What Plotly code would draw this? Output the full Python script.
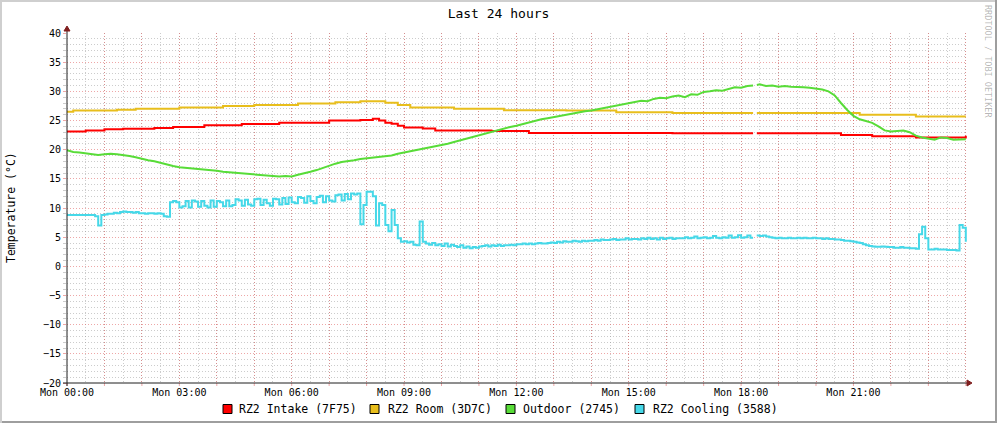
import plotly.graph_objects as go

# ---------------- data ----------------
series_names = ["RZ2 Intake (7F75)", "RZ2 Room (3D7C)", "Outdoor (2745)", "RZ2 Cooling (3588)"]
series_colors = ["#FF0000", "#E8BE1C", "#58DC38", "#46D8E8"]

tick_hours = [0, 3, 6, 9, 12, 15, 18, 21]
tick_labels = ["Mon 00:00", "Mon 03:00", "Mon 06:00", "Mon 09:00",
               "Mon 12:00", "Mon 15:00", "Mon 18:00", "Mon 21:00"]

# sample times in hours; one sample is missing around 18:20
time_10min = [i / 6 for i in range(110)] + [18.32, 18.37, 18.42] + [i / 6 for i in range(111, 145)]
time_5min = [j / 12 for j in range(220)] + [18.32, 18.37] + [j / 12 for j in range(221, 289)]

intake = [
    23.1, 23.1, 23.1, 23.3, 23.3, 23.3, 23.5, 23.5, 23.5, 23.6,
    23.6, 23.6, 23.6, 23.6, 23.7, 23.7, 23.7, 23.9, 23.9, 23.9,
    23.9, 23.9, 24.2, 24.2, 24.2, 24.2, 24.2, 24.2, 24.4, 24.4,
    24.4, 24.4, 24.4, 24.4, 24.6, 24.6, 24.6, 24.6, 24.6, 24.6,
    24.6, 24.6, 25.0, 25.0, 25.0, 25.0, 25.0, 25.1, 25.1, 25.3,
    25.0, 24.6, 24.45, 24.1, 23.8, 23.8, 23.8, 23.65, 23.65, 23.3,
    23.3, 23.3, 23.3, 23.3, 23.3, 23.3, 23.3, 23.3, 23.2, 23.2,
    23.2, 23.2, 23.2, 23.2, 22.85, 22.85, 22.85, 22.85, 22.85, 22.85,
    22.85, 22.85, 22.85, 22.85, 22.85, 22.85, 22.85, 22.85, 22.85, 22.85,
    22.85, 22.85, 22.85, 22.85, 22.85, 22.85, 22.85, 22.8, 22.8, 22.8,
    22.8, 22.8, 22.8, 22.8, 22.8, 22.8, 22.8, 22.8, 22.8, 22.8,
    22.8, None, 22.8,
    22.8, 22.8, 22.8, 22.8, 22.8, 22.8, 22.8, 22.8, 22.8,
    22.8, 22.8, 22.8, 22.8, 22.5, 22.5, 22.5, 22.5, 22.5, 22.3,
    22.3, 22.3, 22.3, 22.3, 22.3, 22.3, 22.1, 22.1, 22.1, 22.1,
    22.1, 22.1, 22.1, 22.1, 22.4,
]

room = [
    26.5, 26.7, 26.7, 26.7, 26.7, 26.7, 26.7, 26.7, 26.85, 26.85,
    26.85, 27.0, 27.0, 27.0, 27.0, 27.0, 27.0, 27.0, 27.25, 27.25,
    27.25, 27.25, 27.25, 27.25, 27.25, 27.5, 27.5, 27.5, 27.5, 27.5,
    27.65, 27.65, 27.65, 27.65, 27.65, 27.65, 27.65, 27.9, 27.9, 27.9,
    27.9, 27.9, 27.9, 28.15, 28.15, 28.15, 28.15, 28.3, 28.3, 28.3,
    28.3, 28.05, 28.05, 27.65, 27.65, 27.25, 27.25, 27.25, 27.25, 27.25,
    27.25, 27.25, 27.0, 27.0, 27.0, 27.0, 27.0, 27.0, 27.0, 27.0,
    26.75, 26.75, 26.75, 26.75, 26.75, 26.75, 26.75, 26.75, 26.75, 26.75,
    26.7, 26.7, 26.7, 26.7, 26.7, 26.7, 26.7, 26.7, 26.4, 26.4,
    26.4, 26.4, 26.4, 26.4, 26.4, 26.4, 26.4, 26.3, 26.3, 26.3,
    26.3, 26.3, 26.3, 26.3, 26.3, 26.3, 26.3, 26.3, 26.3, 26.3,
    26.3, None, 26.3,
    26.3, 26.3, 26.3, 26.3, 26.3, 26.3, 26.3, 26.3, 26.3,
    26.3, 26.3, 26.3, 26.3, 26.3, 26.3, 26.3, 26.0, 26.0, 26.0,
    26.0, 26.0, 26.0, 26.0, 26.0, 26.0, 25.7, 25.7, 25.7, 25.7,
    25.7, 25.7, 25.7, 25.7, 25.7,
]

outdoor = [
    19.9, 19.6, 19.5, 19.4, 19.3, 19.1, 19.2, 19.3, 19.2, 19.1,
    18.9, 18.7, 18.4, 18.2, 18.0, 17.7, 17.4, 17.2, 17.0, 16.9,
    16.8, 16.7, 16.6, 16.6, 16.4, 16.2, 16.1, 16.0, 16.0, 15.8,
    15.7, 15.6, 15.5, 15.4, 15.4, 15.5, 15.4, 15.7, 15.9, 16.2,
    16.5, 16.9, 17.3, 17.6, 17.9, 18.0, 18.2, 18.4, 18.5, 18.6,
    18.7, 18.8, 19.0, 19.3, 19.5, 19.7, 19.9, 20.2, 20.4, 20.6,
    20.8, 21.0, 21.3, 21.6, 21.9, 22.2, 22.5, 22.8, 23.1, 23.4,
    23.7, 23.9, 24.1, 24.4, 24.6, 24.9, 25.2, 25.4, 25.6, 25.9,
    26.1, 26.3, 26.5, 26.6, 26.7, 26.9, 27.1, 27.3, 27.6, 27.8,
    28.0, 28.2, 28.4, 28.3, 28.7, 28.9, 28.8, 29.1, 29.3, 29.0,
    29.5, 29.4, 29.9, 30.0, 30.2, 30.1, 30.4, 30.7, 30.6, 30.9,
    31.0, None, 31.1,
    31.2, 30.9, 31.0, 30.8, 30.9, 30.8, 30.8, 30.7, 30.6,
    30.5, 30.3, 30.0, 29.3, 28.0, 26.8, 25.8, 25.2, 24.9, 24.6,
    24.0, 23.3, 23.1, 23.2, 23.3, 23.0, 22.4, 22.1, 21.9, 21.7,
    22.1, 22.0, 21.7, 21.8, 21.8,
]

cooling = [
    8.8, 8.8, 8.8, 8.8, 8.8, 8.8, 8.8, 8.8, 8.8, 8.6,
    7.0,
    8.8, 8.9, 9.0, 9.0,
    9.2, 9.1, 9.3, 9.4, 9.3, 9.3, 9.2, 9.3,
    9.1, 9.1, 9.0, 9.1, 9.1, 9.0, 9.1, 9.0,
    8.6, 8.5,
    11.0,
    11.2, 11.0, 10.1, 10.3, 11.2, 10.1, 11.3, 11.1, 10.2, 11.2, 10.4, 10.1, 11.3, 10.2, 11.2, 11.0, 10.3,
    11.3, 10.3, 10.5, 11.5, 11.3, 10.4, 11.4, 10.6, 10.4, 11.5, 11.6, 10.5, 11.4, 10.8, 10.4, 11.6, 11.5, 10.6, 11.7, 10.7,
    11.8, 11.0, 10.8, 11.9, 11.7, 10.9, 12.0, 11.2, 10.8, 11.9, 12.1, 11.0, 12.0, 11.3, 11.1,
    12.2, 12.3, 11.3, 12.4, 11.5, 12.5, 12.3,
    12.5, 7.2, 10.5, 12.8, 12.8, 12.0, 7.0, 10.8, 10.5, 7.1, 6.0, 9.65, 7.1,
    4.8, 4.2, 4.3, 4.1, 4.2, 3.7, 3.6, 7.7, 4.2,
    3.9, 3.7, 4.0, 3.6, 3.8, 3.5, 3.9, 3.4, 3.7, 3.5, 3.3, 3.6,
    3.2, 3.4, 3.1, 3.3, 3.2, 3.4,
    3.5, 3.6, 3.4, 3.6, 3.5, 3.7, 3.5, 3.6, 3.6, 3.7, 3.6,
    3.8, 3.8, 3.9, 3.8, 3.9, 3.8, 3.9, 4.0, 3.9, 3.9, 4.0, 4.1, 4.0,
    4.2, 4.1, 4.3, 4.2, 4.2, 4.4, 4.3, 4.2, 4.4, 4.3, 4.4, 4.4,
    4.5, 4.4, 4.6, 4.5, 4.5, 4.6, 4.7, 4.5, 4.6, 4.6, 4.8, 4.6, 4.7,
    4.7, 4.6, 4.8, 4.7, 4.9, 4.7, 4.8, 4.6, 4.9, 4.7, 4.8, 4.9, 4.7, 4.8, 4.8,
    4.8, 5.0, 4.8, 4.9, 5.1, 4.8, 4.9, 5.0, 4.8, 4.9, 5.2, 4.9, 4.8, 5.0,
    4.9, 5.3, 4.9, 5.0, 5.35, 4.9, 5.0, 5.3, 4.9,
    4.9, None,
    5.3, 5.2, 5.3, 5.1, 5.0,
    4.9, 4.8, 4.9, 4.8, 4.8, 4.9, 4.8, 4.8, 4.9, 4.8, 4.9, 4.8, 4.8, 4.9, 4.8, 4.8, 4.7, 4.8, 4.7, 4.7, 4.6, 4.6,
    4.5, 4.4, 4.4, 4.3, 4.2, 4.1, 4.0, 3.8, 3.6, 3.5,
    3.4, 3.35, 3.35, 3.4, 3.35, 3.3,
    3.3, 3.2, 3.2, 3.3, 3.2, 3.2, 3.1, 3.1, 3.0,
    5.5, 6.8, 4.8,
    2.9, 2.9, 3.0, 2.9, 2.9, 2.9, 2.8, 2.8, 2.8, 2.7,
    7.1, 6.6, 4.2,
]

# ---------------- layout geometry (pixels) ----------------
IMG_W, IMG_H = 997, 423
L, T, W, H = 67, 33, 900, 350
R, B = IMG_W - L - W, IMG_H - T - H

def px(x):
    return (x - L) / W

def py(y):
    return (T + H - y) / H

MONO = "DejaVu Sans Mono"
GRID = "rgba(143,143,143,0.45)"
MGRID = "rgba(222,79,79,0.5)"
AXIS = "#1F1F1F"
ARROW = "#801F1F"

fig = go.Figure()
xs = [time_10min, time_10min, time_10min, time_5min]
ys = [intake, room, outdoor, cooling]
shapes_line = ["hv", "hv", "linear", "hv"]
for name, color, x, y, shp in zip(series_names, series_colors, xs, ys, shapes_line):
    fig.add_trace(go.Scatter(x=x, y=y, name=name, mode="lines",
                             line=dict(color=color, width=2, shape=shp),
                             connectgaps=False, showlegend=False,
                             hoverinfo="x+y+name"))

hour_ticks = list(range(25))
hour_text = [tick_labels[tick_hours.index(h)] if h in tick_hours else "" for h in hour_ticks]

fig.update_xaxes(range=[0, W / 37.45], tickmode="array", tickvals=hour_ticks, ticktext=hour_text,
                 showgrid=True, gridcolor=MGRID, griddash="1px,2px", gridwidth=1,
                 ticks="", ticklabelstandoff=2,
                 tickfont=dict(family=MONO, size=10, color="#000"),
                 showline=False, zeroline=False, fixedrange=True,
                 minor=dict(tick0=0, dtick=0.5, showgrid=True, gridcolor=GRID,
                            griddash="1px,2px", gridwidth=1, ticks=""))
fig.update_yaxes(range=[-20, 40], tickmode="linear", tick0=-20, dtick=5,
                 showgrid=True, gridcolor=MGRID, griddash="1px,2px", gridwidth=1,
                 ticks="outside", ticklen=3, tickcolor=MGRID, tickwidth=1,
                 tickfont=dict(family=MONO, size=10, color="#000"),
                 showline=False, zeroline=False, fixedrange=True,
                 minor=dict(tick0=0, dtick=1, showgrid=True, gridcolor=GRID,
                            griddash="1px,2px", gridwidth=1, ticks="outside",
                            ticklen=3, tickcolor=GRID))

shapes = []
# frame (3D shade)
shapes.append(dict(type="rect", xref="paper", yref="paper", x0=px(0), x1=px(IMG_W), y0=py(2), y1=py(0),
                   fillcolor="#CFCFCF", line=dict(width=0), layer="above"))
shapes.append(dict(type="rect", xref="paper", yref="paper", x0=px(0), x1=px(2), y0=py(IMG_H), y1=py(0),
                   fillcolor="#CFCFCF", line=dict(width=0), layer="above"))
shapes.append(dict(type="rect", xref="paper", yref="paper", x0=px(IMG_W - 2), x1=px(IMG_W), y0=py(IMG_H), y1=py(0),
                   fillcolor="#9E9E9E", line=dict(width=0), layer="above"))
shapes.append(dict(type="rect", xref="paper", yref="paper", x0=px(2), x1=px(IMG_W), y0=py(IMG_H), y1=py(IMG_H - 2),
                   fillcolor="#9E9E9E", line=dict(width=0), layer="above"))
# hour tick marks below the x axis
for h in hour_ticks:
    xh = L + h * 37.45
    shapes.append(dict(type="line", xref="paper", yref="paper", x0=px(xh), x1=px(xh),
                       y0=py(386), y1=py(383), line=dict(color=MGRID, width=1), layer="above"))
# axes
shapes.append(dict(type="line", xref="paper", yref="paper", x0=px(67), x1=px(67), y0=py(386), y1=py(29),
                   line=dict(color=AXIS, width=1), layer="above"))
shapes.append(dict(type="line", xref="paper", yref="paper", x0=px(63), x1=px(969), y0=py(383), y1=py(383),
                   line=dict(color=AXIS, width=1), layer="above"))
# arrows
shapes.append(dict(type="path", xref="paper", yref="paper",
                   path=f"M {px(67)} {py(26)} L {px(70)} {py(31)} L {px(64)} {py(31)} Z",
                   fillcolor=ARROW, line=dict(color=ARROW, width=1), layer="above"))
shapes.append(dict(type="path", xref="paper", yref="paper",
                   path=f"M {px(972)} {py(383)} L {px(967)} {py(380)} L {px(967)} {py(386)} Z",
                   fillcolor=ARROW, line=dict(color=ARROW, width=1), layer="above"))

annotations = []
# manual legend
legend_square_x = [223, 370, 506, 635]
legend_text_x = [237, 386, 521, 651]
for name, color, sx, tx in zip(series_names, series_colors, legend_square_x, legend_text_x):
    shapes.append(dict(type="rect", xref="paper", yref="paper", x0=px(sx), x1=px(sx + 9),
                       y0=py(413.5), y1=py(404.5), fillcolor=color,
                       line=dict(color="#000", width=1), layer="above"))
    annotations.append(dict(text=name, xref="paper", yref="paper", x=px(tx), y=py(409.5),
                            xanchor="left", yanchor="middle", showarrow=False,
                            font=dict(family=MONO, size=11.5, color="#000")))

# y-axis title
annotations.append(dict(text="Temperature (°C)", xref="paper", yref="paper", x=px(11), y=0.5,
                        textangle=-90, xanchor="center", yanchor="middle", showarrow=False,
                        font=dict(family=MONO, size=11.5, color="#000")))
# watermark
annotations.append(dict(text="RRDTOOL / TOBI OETIKER", xref="paper", yref="paper", x=px(988), y=py(61),
                        textangle=90, xanchor="center", yanchor="middle", showarrow=False,
                        font=dict(family=MONO, size=8.5, color="rgba(0,0,0,0.3)")))

fig.update_layout(
    width=IMG_W, height=IMG_H,
    margin=dict(l=L, r=R, t=T, b=B, pad=0),
    paper_bgcolor="#FFFFFF", plot_bgcolor="#FFFFFF",
    title=dict(text="Last 24 hours", x=0.5, xref="container", xanchor="center",
               y=1 - 13 / IMG_H, yref="container", yanchor="middle",
               font=dict(family=MONO, size=13, color="#000")),
    shapes=shapes, annotations=annotations,
    showlegend=False,
)

fig.write_html("out.html", config={"displayModeBar": False},
               post_script="document.body.style.margin='0';document.body.style.overflow='hidden';")
